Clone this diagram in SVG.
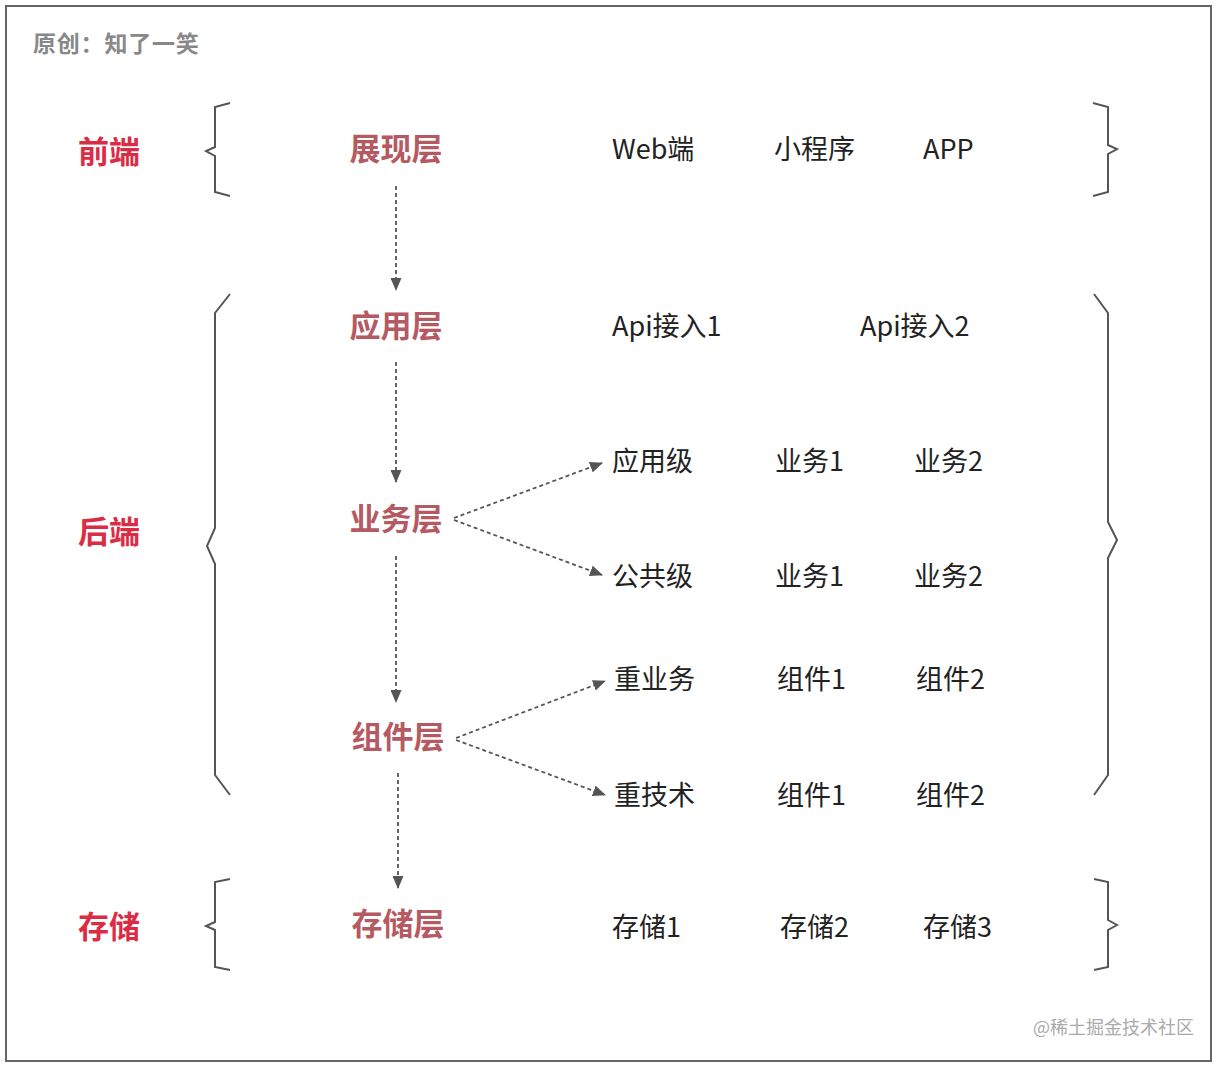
<svg xmlns="http://www.w3.org/2000/svg" width="1220" height="1066" viewBox="0 0 1220 1066">
<defs>
<marker id="ah" markerWidth="13" markerHeight="11" refX="12" refY="5.5" orient="auto" markerUnits="userSpaceOnUse">
<path d="M0,0 L13,5.5 L0,11 Z" fill="#555"/>
</marker>
<style>
.t{font-family:"Noto Sans CJK SC","Noto Sans",sans-serif;}
.side{font-size:31px;font-weight:700;fill:#dc2b44;text-anchor:middle;}
.layer{font-size:31px;font-weight:700;fill:#b55a62;text-anchor:middle;}
.item{font-size:27px;fill:#222;}
.brace{fill:none;stroke:#555;stroke-width:2;stroke-linejoin:miter;}
.dash{fill:none;stroke:#555;stroke-width:1.8;stroke-dasharray:4 3;}
</style>
</defs>
<rect x="0" y="0" width="1220" height="1066" fill="#fff"/>
<rect x="6" y="6" width="1205" height="1055" fill="none" stroke="#666" stroke-width="2"/>
<text class="t" x="33" y="52" font-size="23" font-weight="700" fill="#888" letter-spacing="0.8">原创：知了一笑</text>

<g id="braces">
<path class="brace" d="M230,103 L215,107 L215,147 L206,151 L215,156 L215,192 L230,196"/>
<path class="brace" d="M1093,103 L1108,107 L1108,145 L1117,149 L1108,154 L1108,192 L1093,196"/>
<path class="brace" d="M230,294 L215,313 L215,528 L207,546 L215,564 L215,775 L230,795"/>
<path class="brace" d="M1094,294 L1108,313 L1108,522 L1117,540 L1108,558 L1108,775 L1094,795"/>
<path class="brace" d="M230,879 L215,882 L215,922 L206,926 L215,930 L215,967 L230,970"/>
<path class="brace" d="M1094,879 L1108,882 L1108,920 L1117,925 L1108,930 L1108,967 L1094,970"/>
</g>

<g id="side-labels">
<g id="n-frontend"><text class="t side" x="109" y="163">前端</text></g>
<g id="n-backend"><text class="t side" x="109" y="543">后端</text></g>
<g id="n-storage"><text class="t side" x="109" y="938">存储</text></g>
</g>

<g id="n-presentation"><text class="t layer" x="396" y="160">展现层</text></g>
<g id="n-application"><text class="t layer" x="396" y="337">应用层</text></g>
<g id="n-business"><text class="t layer" x="396" y="530">业务层</text></g>
<g id="n-component"><text class="t layer" x="398" y="748">组件层</text></g>
<g id="n-storelayer"><text class="t layer" x="398" y="935">存储层</text></g>

<g id="connectors">
<line class="dash" x1="396" y1="186" x2="396" y2="290" marker-end="url(#ah)"/>
<line class="dash" x1="396" y1="362" x2="396" y2="482" marker-end="url(#ah)"/>
<line class="dash" x1="396" y1="556" x2="396" y2="702" marker-end="url(#ah)"/>
<line class="dash" x1="398" y1="773" x2="398" y2="888" marker-end="url(#ah)"/>
<line class="dash" x1="454" y1="518" x2="602" y2="463" marker-end="url(#ah)"/>
<line class="dash" x1="454" y1="520" x2="602" y2="575" marker-end="url(#ah)"/>
<line class="dash" x1="456" y1="738" x2="605" y2="681" marker-end="url(#ah)"/>
<line class="dash" x1="456" y1="740" x2="605" y2="795" marker-end="url(#ah)"/>
</g>

<g id="row-presentation">
<text class="t item" x="612" y="159">Web端</text>
<text class="t item" x="774" y="159">小程序</text>
<text class="t item" x="923" y="159">APP</text>
</g>
<g id="row-application">
<text class="t item" x="612" y="336">Api接入1</text>
<text class="t item" x="860" y="336">Api接入2</text>
</g>
<g id="row-appbiz">
<text class="t item" x="612" y="471">应用级</text>
<text class="t item" x="775" y="471">业务1</text>
<text class="t item" x="914" y="471">业务2</text>
</g>
<g id="row-commonbiz">
<text class="t item" x="612" y="586">公共级</text>
<text class="t item" x="775" y="586">业务1</text>
<text class="t item" x="914" y="586">业务2</text>
</g>
<g id="row-bizcomp">
<text class="t item" x="614" y="689">重业务</text>
<text class="t item" x="777" y="689">组件1</text>
<text class="t item" x="916" y="689">组件2</text>
</g>
<g id="row-techcomp">
<text class="t item" x="614" y="805">重技术</text>
<text class="t item" x="777" y="805">组件1</text>
<text class="t item" x="916" y="805">组件2</text>
</g>
<g id="row-storage">
<text class="t item" x="612" y="937">存储1</text>
<text class="t item" x="780" y="937">存储2</text>
<text class="t item" x="923" y="937">存储3</text>
</g>

<text class="t" x="1033" y="1034" font-size="18" fill="#aaa">@稀土掘金技术社区</text>
</svg>
